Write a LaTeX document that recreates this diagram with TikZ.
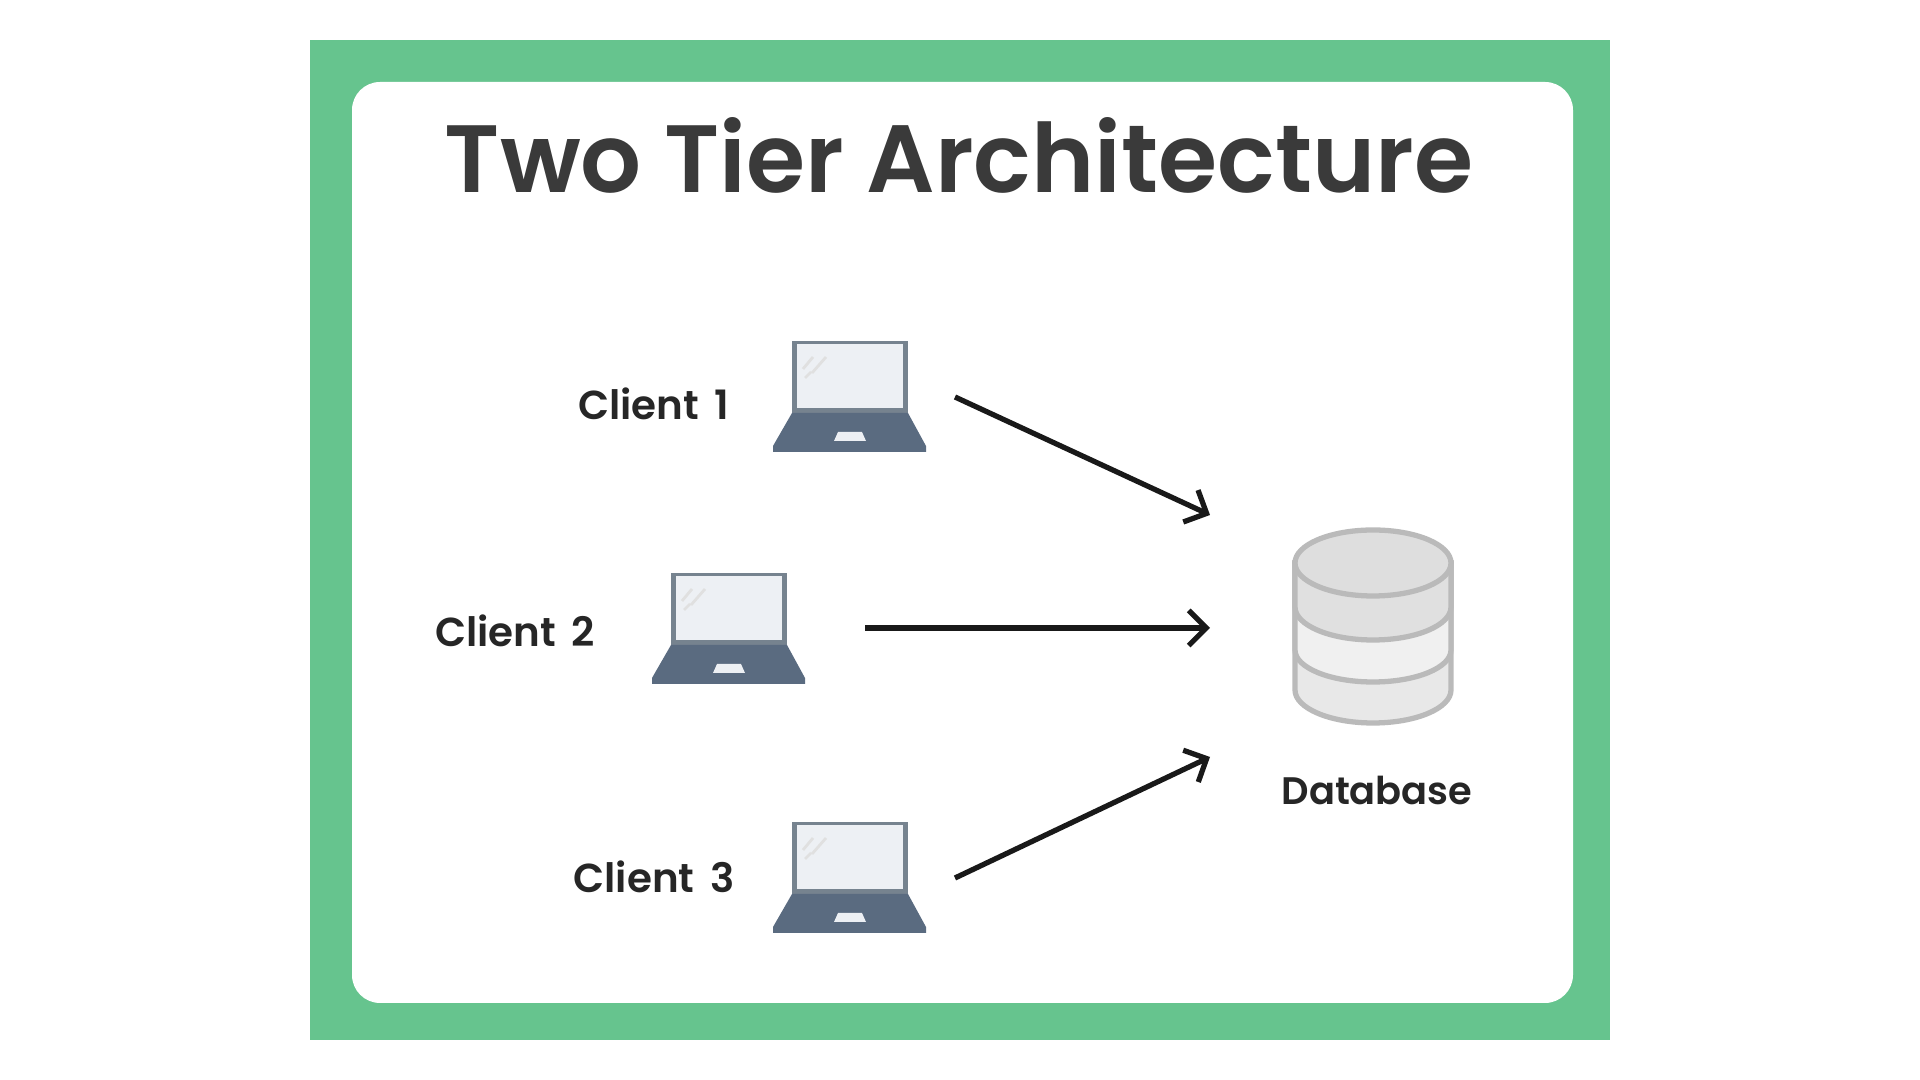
\documentclass[tikz,border=0pt]{standalone}
\usepackage{fontspec}
\setmainfont{Poppins}
\newfontfamily\labelfont{Poppins SemiBold}
\usetikzlibrary{arrows.meta}

\definecolor{framegreen}{HTML}{66C48E}
\definecolor{titlegrey}{HTML}{3A3A3A}
\definecolor{lapdark}{HTML}{5A6B80}
\definecolor{lapedge}{HTML}{76838F}
\definecolor{lapscreen}{HTML}{EDF0F4}
\definecolor{dbline}{HTML}{BABABA}

\tikzset{
    pics/laptop/.style={code={
        \fill [lapedge] (-58,-55) -- (58,-55) -- (58,17) -- (-58,17) -- cycle;
        \fill [lapscreen] (-53,-52) rectangle (53,12);
        \draw [black!12,thick] (-47,-27) -- (-37,-39) (-38,-23) -- (-24,-39) (-45,-18) -- (-39,-24);
        \fill [lapdark] (-58,17) -- (58,17) -- (76,50) -- (76,56) -- (-77,56) -- (-77,50) -- cycle;
        \fill [lapscreen] (-12,36) -- (12,36) -- (16,45) -- (-16,45) -- cycle;
    }},
    dbband/.style={draw=dbline,line width=1.5pt}
}

\begin{document}
\begin{tikzpicture}[x=0.01cm,y=-0.01cm]
\useasboundingbox (0,0) rectangle (1920,1080);
\fill [framegreen] (310,40) rectangle (1610,1040);
\fill [white,rounded corners=0.28cm] (352,82) rectangle (1573,1003);
\node (T) at (959,155) {\fontsize{27.2pt}{30pt}\selectfont\fontspec{Poppins SemiBold}\color{titlegrey}Two Tier Architecture};
% laptops
\pic at (850,396) {laptop};
\pic at (729,628) {laptop};
\pic at (850,877) {laptop};
% database, bottom slice first
\begin{scope}[dbband]
    \filldraw [fill=black!9] (1295,563) -- (1295,690) arc (180:0:78 and 33) -- (1451,563) -- cycle;
    \filldraw [fill=black!6] (1295,563) -- (1295,650) arc (180:0:78 and 32) -- (1451,563) -- cycle;
    \filldraw [fill=black!12] (1295,563) -- (1295,607) arc (180:0:78 and 33) -- (1451,563) -- cycle;
    \filldraw [fill=black!13] (1373,563) ellipse (78 and 33);
\end{scope}
\begin{scope}[every node/.style={font=\fontsize{11.5pt}{13pt}\selectfont\labelfont,text=black!85}]
    \node (L1) at (654,404) {Client\hspace{0.15em} 1};
    \node (L2) at (515,631) {Client\hspace{0.15em} 2};
    \node (L3) at (654,877) {Client\hspace{0.15em} 3};
    \node [font=\fontsize{10.9pt}{13pt}\selectfont\labelfont] (L4) at (1377,790) {Database};
\end{scope}
\coordinate (A1) at (955,397);
\coordinate (A2) at (865,628);
\coordinate (A3) at (955,878);
\coordinate (B1) at (1210,515);
\coordinate (B2) at (1210,628);
\coordinate (B3) at (1210,757);
\begin{scope}[line width=1.5pt,black!90,
              >={Straight Barb[length=5pt,width=10pt,line width=1.5pt]}]
    \draw [->] (A1) -- (B1);
    \draw [->] (A2) -- (B2);
    \draw [->] (A3) -- (B3);
\end{scope}
\end{tikzpicture}
\end{document}
